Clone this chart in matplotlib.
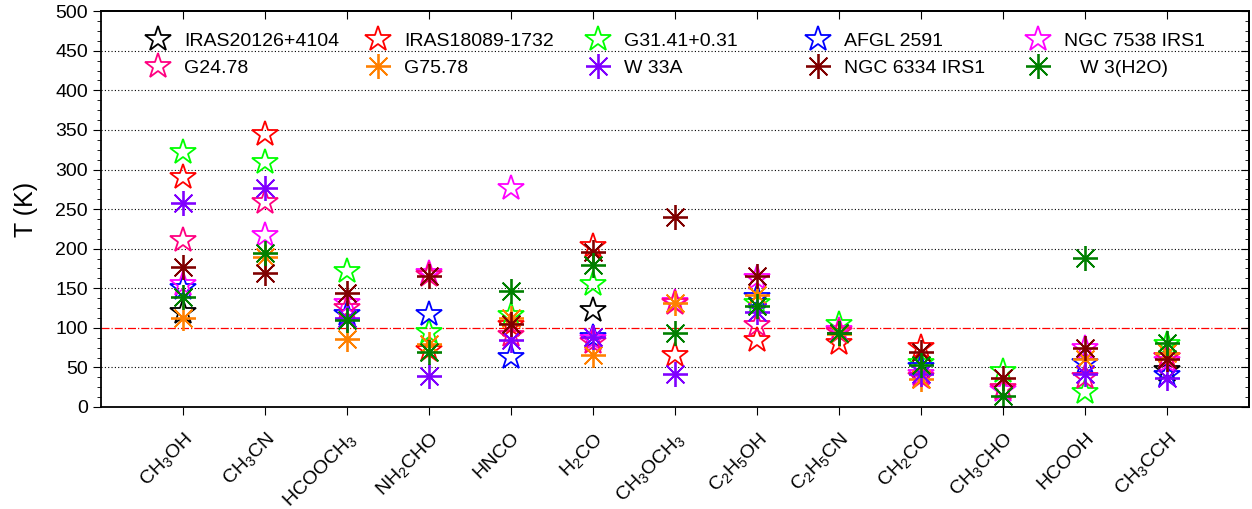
import numpy as np
import matplotlib
matplotlib.use('Agg')
import matplotlib.pyplot as plt
from matplotlib.legend import Legend
from matplotlib.ticker import MultipleLocator, AutoMinorLocator

plt.rcParams['font.family'] = ['Liberation Sans', 'DejaVu Sans']
plt.rcParams['mathtext.default'] = 'regular'

nan = np.nan
molecules = [r'CH$_3$OH', r'CH$_3$CN', r'HCOOCH$_3$', r'NH$_2$CHO', 'HNCO', r'H$_2$CO',
             r'CH$_3$OCH$_3$', r'C$_2$H$_5$OH', r'C$_2$H$_5$CN', r'CH$_2$CO', r'CH$_3$CHO',
             'HCOOH', r'CH$_3$CCH']

sources = ['IRAS20126+4104', 'IRAS18089-1732', 'G31.41+0.31', 'AFGL 2591', 'NGC 7538 IRS1',
           'G24.78', 'G75.78', 'W 33A', 'NGC 6334 IRS1', '   W 3(H2O)']

iras20126 = [120, nan, nan, nan, nan, 122, nan, nan, nan, nan, nan, nan, 47]
iras18089 = [290, 345, nan, 72, 104, 204, 66, 85, 81, 76, nan, nan, 63]
g31 = [322, 310, 172, 95, 116, 156, nan, 131, 105, 55, 45, 19, 80]
afgl2591 = [150, nan, 118, 118, 63, 89, nan, 139, nan, 50, nan, 55, 40]
ngc7538 = [155, 217, 131, 169, 277, 86, 133, 163, 97, 42, 22, 74, 58]
g24 = [211, 259, 125, 167, 91, 82, 131, 104, 95, 38, 24, 38, 63]
g75 = [113, 190, 86, 80, 112, 66, 131, 142, 92, 35, nan, 61, 68]
w33a = [258, 277, 112, 39, 85, 89, 42, 120, 94, 42, nan, 42, 36]
ngc6334 = [177, 169, 144, 165, 105, 196, 240, 165, 93, 70, 36, 75, 61]
w3 = [139, 194, 110, 70, 146, 179, 93, 127, 93, 53, 14, 188, 81]

series = [iras20126, iras18089, g31, afgl2591, ngc7538, g24, g75, w33a, ngc6334, w3]
colors = ['black', '#ff0000', '#00ff00', '#0000ff', '#ff00ff',
          '#ff0080', '#ff8000', '#8000ff', '#800000', '#008000']
star_marker = ['*'] * 6 + [(8, 2, 0)] * 4

fig = plt.figure(figsize=(12.52, 5.09), dpi=100)
ax = fig.add_axes([0.0807, 0.2004, 0.917, 0.7776])

x = np.arange(1, len(molecules) + 1)
handles = []
for vals, c, m, name in zip(series, colors, star_marker, sources):
    if m == '*':
        h, = ax.plot(x, vals, ls='none', marker='*', ms=19, mfc='none', mec=c, mew=1.3, label=name)
    else:
        h, = ax.plot(x, vals, ls='none', marker=m, ms=18, color=c, mec=c, mew=1.3, label=name)
    handles.append(h)

for yv in range(50, 500, 50):
    if yv == 100:
        continue
    ax.axhline(yv, color='black', ls=(0, (1, 2)), lw=0.8, zorder=0)
ax.axhline(100, color='#ff0000', ls='-.', lw=0.9, zorder=0)

ax.set_xlim(0, 14)
ax.set_ylim(0, 500)
ax.set_xticks(x)
ax.set_xticklabels(molecules, rotation=45, ha='right', rotation_mode='anchor', fontsize=14)
ax.yaxis.set_major_locator(MultipleLocator(50))
ax.yaxis.set_minor_locator(AutoMinorLocator(4))
ax.tick_params(axis='y', which='both', direction='out', labelsize=14)
ax.tick_params(axis='y', which='major', length=6)
ax.tick_params(axis='y', which='minor', length=3)
ax.tick_params(axis='x', direction='out', length=6, pad=10)
ax.set_ylabel('T (K)', fontsize=18, labelpad=12)

# inward ticks on the top and right edges
top = ax.secondary_xaxis('top')
top.set_xticks(x)
top.tick_params(direction='in', length=6, labeltop=False)
right = ax.secondary_yaxis('right')
right.yaxis.set_major_locator(MultipleLocator(50))
right.yaxis.set_minor_locator(AutoMinorLocator(4))
right.tick_params(which='both', direction='in', labelright=False)
right.tick_params(which='major', length=6)
right.tick_params(which='minor', length=3)

for s in ax.spines.values():
    s.set_linewidth(1.3)
top.spines['top'].set_linewidth(1.3)
right.spines['right'].set_linewidth(1.3)

# legend: 5 columns, two rows, each column placed on its own
for col in range(5):
    idx = [col, col + 5]
    leg = Legend(ax, [handles[i] for i in idx], [sources[i] for i in idx], frameon=False,
                 loc='upper left', bbox_to_anchor=(0.0217 + col * 0.1916, 0.99), fontsize=14,
                 handletextpad=0.6, handlelength=1.5, labelspacing=0.45)
    ax.add_artist(leg)

fig.savefig('out.png', dpi=100)
